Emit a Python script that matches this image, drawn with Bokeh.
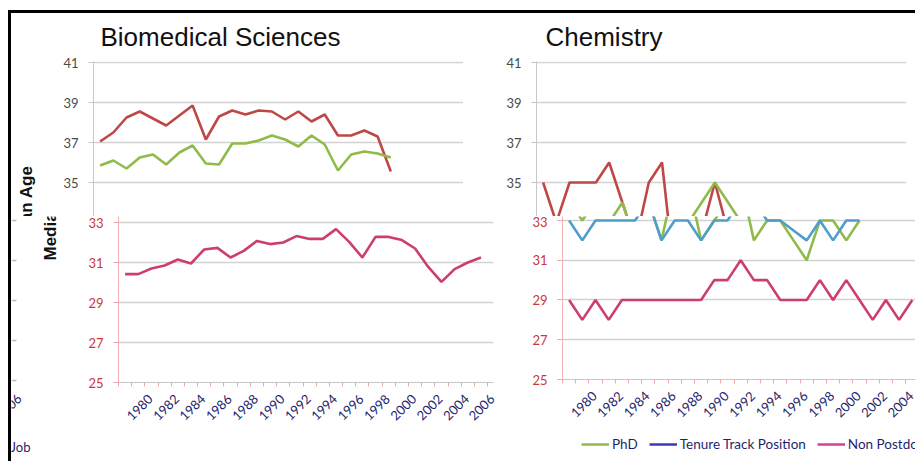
import math
from bokeh.plotting import figure
from bokeh.models import (Range1d, FixedTicker, Legend, LegendItem, Div, Spacer,
                          CustomJSTickFormatter)
from bokeh.core.properties import value
from bokeh.layouts import row, column
from bokeh.embed import file_html
from bokeh.resources import INLINE

# ---------------- data ----------------
years = list(range(1979, 2007))
year_labels = list(range(1980, 2007, 2))
y_ticks_top = [35, 37, 39, 41]
y_ticks_bottom = [25, 27, 29, 31, 33]

# Biomedical Sciences
bio_postdoc = [37.05, 37.5, 38.25, 38.55, 38.2, 37.85, 38.35, 38.85, 37.15, 38.3, 38.6, 38.4,
               38.6, 38.55, 38.15, 38.55, 38.05, 38.4, 37.35, 37.35, 37.6, 37.3, 35.55]
bio_phd = [35.85, 36.1, 35.7, 36.25, 36.4, 35.9, 36.5, 36.85, 35.95, 35.9, 36.95, 36.95,
           37.1, 37.35, 37.15, 36.8, 37.35, 36.9, 35.6, 36.4, 36.55, 36.45, 36.25]
bio_non_postdoc = [30.42, 30.42, 30.7, 30.85, 31.15, 30.95, 31.65, 31.73, 31.25, 31.58, 32.08,
                   31.92, 32.0, 32.32, 32.18, 32.18, 32.67, 32.03, 31.25, 32.28, 32.28, 32.12,
                   31.7, 30.78, 30.03, 30.67, 31.0, 31.25]

# Chemistry (upper half of the picture)
chem_top_postdoc = [35, 33, 35, 35, 35, 36, 34, 32, 35, 36, 30, 31, 32.5, 35, 32.5]
chem_top_phd = [33, 33, 33, 33, 33, 33, 34, 32, 33, 33, 32, 33, 34, 35, 34, 33]
# Chemistry (lower half of the picture)
chem_bottom_phd = [34, 33, 34, 34, 34, 34, 34, 32, 35, 35, 32, 33, 34, 35, 32, 33, 33, 32, 31,
                   33, 33, 32, 33]
chem_bottom_tenure = [33, 32, 33, 33, 33, 33, 34, 32, 33, 33, 32, 33, 33, 34, 34, 33, 33, 32.5,
                      32, 33, 32, 33, 33]
chem_bottom_non_postdoc = [29, 28, 29, 28, 29, 29, 29, 29, 29, 29, 29, 30, 30, 31, 30, 30, 29,
                           29, 29, 30, 29, 30, 29, 28, 29, 28, 29]

panel_titles = ["Biomedical Sciences", "Chemistry"]
legend_labels = ["PhD", "Tenure Track Position", "Non Postdoc"]
axis_title = "Median Age"
stray_texts = ["2006", "Job"]

# ---------------- styles ----------------
RED = "#BF4846"
GREEN = "#90BA4A"
MAGENTA = "#CC3E73"
BLUE = "#4E9DCB"
LEG_BLUE = "#3838C4"
LEG_MAGENTA = "#D0409A"
NAVY = "#1F1F6E"
GRID = "#D2D2D2"
TICKFONT = "Lato"
LW = 2.6
LABEL_SHIFT = 0.9   # rotated labels end to the right of their category, as in the picture


def make_fig(frame_w, frame_h, x_end, y_start, y_end, left, right, top, bottom):
    p = figure(frame_width=frame_w, frame_height=frame_h,
               width=left + frame_w + right, height=top + frame_h + bottom,
               x_range=Range1d(1978.5, x_end), y_range=Range1d(y_start, y_end),
               min_border_left=left, min_border_right=right,
               min_border_top=top, min_border_bottom=bottom, title=None,
               toolbar_location=None, output_backend="svg", frame_align=False)
    p.outline_line_color = None
    p.xgrid.visible = False
    p.ygrid.grid_line_color = GRID
    p.ygrid.grid_line_width = 1.5
    p.yaxis.major_label_text_font = TICKFONT
    p.yaxis.major_label_text_font_size = "13px"
    p.yaxis.minor_tick_line_color = None
    p.yaxis.major_tick_in = 0
    p.yaxis.major_tick_out = 5
    p.yaxis.major_label_standoff = 10
    return p


def blank_fig(w, h, x0, x1, y0, y1):
    # plain drawing strip; ranges are page pixels (y pointing down)
    p = figure(width=w, height=h, x_range=Range1d(x0, x1), y_range=Range1d(y0, y1),
               min_border=0, title=None, toolbar_location=None, output_backend="svg",
               frame_align=False)
    p.axis.visible = False
    p.grid.visible = False
    p.outline_line_color = None
    return p


def style_top(p):
    p.xaxis.visible = False
    p.yaxis.ticker = FixedTicker(ticks=y_ticks_top)
    p.yaxis.axis_line_color = "#C8C8C8"
    p.yaxis.major_tick_line_color = "#C8C8C8"
    p.yaxis.major_label_text_color = "#4A4A4A"


def style_bottom(p):
    p.yaxis.ticker = FixedTicker(ticks=y_ticks_bottom)
    p.yaxis.axis_line_color = "#F2B2B2"
    p.yaxis.major_tick_line_color = "#EFA8A8"
    p.yaxis.major_label_text_color = "#C8383C"
    bounds = [y - 0.5 for y in years] + [years[-1] + 0.5]
    p.xaxis.ticker = FixedTicker(ticks=[y + LABEL_SHIFT for y in year_labels], minor_ticks=bounds)
    p.xaxis.formatter = CustomJSTickFormatter(code="return Math.floor(tick).toString();")
    p.xaxis.major_tick_out = 0
    p.xaxis.major_tick_in = 0
    p.xaxis.minor_tick_out = 4
    p.xaxis.minor_tick_in = 0
    p.xaxis.minor_tick_line_color = "#EFA8A8"
    p.xaxis.axis_line_color = "#C8C8C8"
    p.xaxis.major_label_orientation = math.pi / 4
    p.xaxis.major_label_text_font = TICKFONT
    p.xaxis.major_label_text_font_size = "13px"
    p.xaxis.major_label_text_color = NAVY
    p.xaxis.major_label_standoff = 10


# ---------------- header with panel titles ----------------
header = blank_fig(904, 40, 11, 915, 53, 13)
header.text(x=[100, 545], y=[36, 36], text=panel_titles, text_align="left",
            text_baseline="middle", text_font=value("Liberation Sans"),
            text_font_size="26px", text_color="#111111")

# ---------------- left strip of the upper half ----------------
f_tl = blank_fig(49, 163, 11, 60, 216, 53)
f_tl.text(x=[26], y=[165], text=[axis_title], angle=math.pi / 2, text_align="right",
          text_baseline="middle", text_font=value("Liberation Sans"), text_font_style="bold",
          text_font_size="17px", text_color="#111111")

# ---------------- Biomedical: upper part ----------------
p_tl = make_fig(370, 155, 2006.5, 33.3, 41.05, 32, 0, 8, 0)
style_top(p_tl)
p_tl.line(years[:len(bio_postdoc)], bio_postdoc, color=RED, line_width=LW)
p_tl.line(years[:len(bio_phd)], bio_phd, color=GREEN, line_width=LW)

# ---------------- Chemistry: upper part ----------------
p_tr = make_fig(370, 155, 2006.5, 33.3, 41.05, 73, 10, 8, 0)
style_top(p_tr)
p_tr.line(years[:len(chem_top_postdoc)], chem_top_postdoc, color=RED, line_width=LW)
p_tr.line(years[:len(chem_top_phd)], chem_top_phd, color=GREEN, line_width=LW)

# ---------------- left strip of the lower half ----------------
f_bl = blank_fig(59, 245, 11, 70, 461, 216)
frag_y = [220 + (33 - v) * 20 for v in y_ticks_bottom]   # ends of a neighbouring chart's grid
f_bl.segment(x0=[11] * len(frag_y), y0=frag_y, x1=[16] * len(frag_y), y1=frag_y,
             line_color="#BDBDBD", line_width=1.5)
f_bl.text(x=[50], y=[260], text=[axis_title], angle=math.pi / 2, text_align="left",
          text_baseline="middle", text_font=value("Liberation Sans"), text_font_style="bold",
          text_font_size="17px", text_color="#111111")
f_bl.text(x=[15], y=[392], text=[stray_texts[0]], angle=math.pi / 4, text_align="right",
          text_baseline="top", text_font=value(TICKFONT), text_font_size="13px", text_color=NAVY)
f_bl.text(x=[10], y=[446], text=[stray_texts[1]], text_align="left", text_baseline="middle",
          text_font=value(TICKFONT), text_font_size="13px", text_color=NAVY)

# ---------------- Biomedical: lower part ----------------
p_bl = make_fig(375, 166, 2006.95, 25, 33.3, 48, 2, 0, 79)
style_bottom(p_bl)
p_bl.line(years[:len(bio_non_postdoc)], bio_non_postdoc, color=MAGENTA, line_width=LW)

# ---------------- Chemistry: lower part ----------------
p_br = make_fig(353, 163, 1978.5 + 353 / 13.2, 25, 33.2, 67, 0, 0, 53)
style_bottom(p_br)
p_br.line(years[:len(chem_bottom_phd)], chem_bottom_phd, color=GREEN, line_width=LW)
p_br.line(years[:len(chem_bottom_tenure)], chem_bottom_tenure, color=BLUE, line_width=LW)
p_br.line(years[:len(chem_bottom_non_postdoc)], chem_bottom_non_postdoc, color=MAGENTA,
          line_width=LW)

# ---------------- legend strip ----------------
f_leg = blank_fig(420, 29, 0, 1, 0, 1)
off = [5, 6]   # legend-only renderers, kept outside the strip's visible range
r1 = f_leg.line(off, off, color=GREEN, line_width=2.5)
r2 = f_leg.line(off, off, color=LEG_BLUE, line_width=2.5)
r3 = f_leg.line(off, off, color=LEG_MAGENTA, line_width=2.5)
leg = Legend(items=[LegendItem(label=legend_labels[0], renderers=[r1]),
                    LegendItem(label=legend_labels[1], renderers=[r2]),
                    LegendItem(label=legend_labels[2], renderers=[r3])],
             orientation="horizontal", location=(86, 9))
leg.border_line_color = None
leg.background_fill_alpha = 0
leg.padding = 0
leg.margin = 0
leg.spacing = 11
leg.glyph_width = 28
leg.glyph_height = 14
leg.label_standoff = 3
leg.label_text_font = TICKFONT
leg.label_text_font_size = "13.5px"
leg.label_text_color = NAVY
leg.label_height = 14
f_leg.add_layout(leg)

# ---------------- page ----------------
top_line = Div(text="", width=907, height=3, margin=0, styles={"background-color": "black"})
left_line = Div(text="", width=3, height=448, margin=0, styles={"background-color": "black"})
charts = column(header, row(f_tl, p_tl, p_tr), row(f_bl, p_bl, column(p_br, f_leg)))
page = column(Spacer(width=907, height=2, margin=0), top_line, row(left_line, charts),
              margin=(8, 0, 0, 8))

open("out.html", "w").write(file_html(page, INLINE))
